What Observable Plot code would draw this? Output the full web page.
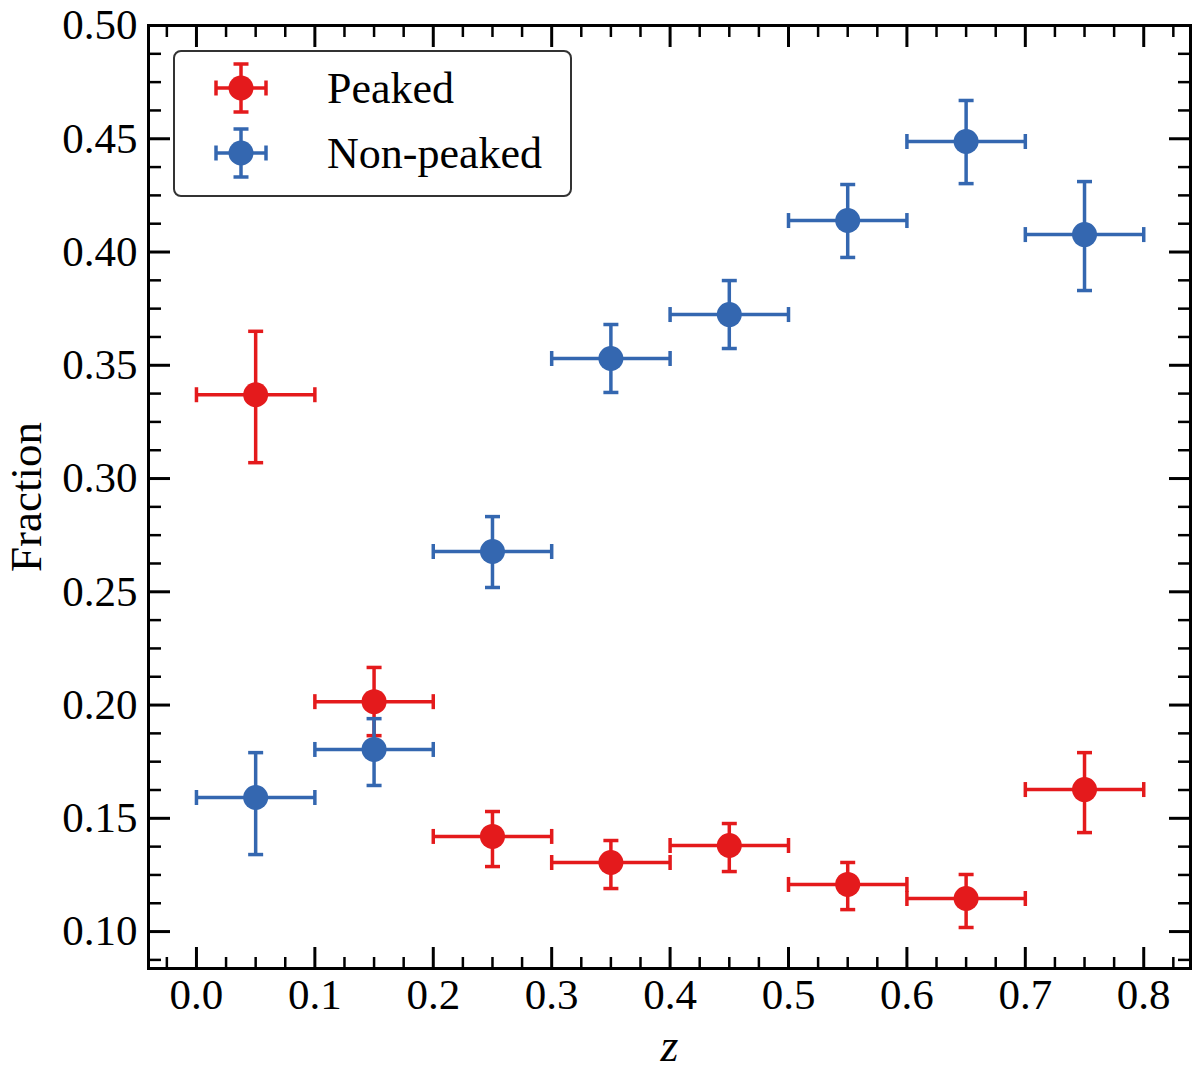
<!DOCTYPE html>
<html>
<head>
<meta charset="utf-8">
<script src="https://cdn.jsdelivr.net/npm/d3@7"></script>
<script src="https://cdn.jsdelivr.net/npm/@observablehq/plot@0.6"></script>
<style>
  body { margin: 0; background: #fff; }
  #wrap { position: relative; width: 1200px; height: 1082px; }
  #legend {
    position: absolute; left: 173px; top: 50px; width: 399px; height: 147px;
    box-sizing: border-box; border: 2px solid #333; border-radius: 8px; background: #fff;
    font-family: "Liberation Serif", serif; font-size: 44px; color: #000;
  }
  .item { position: absolute; left: 0; height: 60px; display: flex; align-items: center; }
  .item svg { margin-left: 38px; margin-right: 58px; }
</style>
</head>
<body>
<div id="wrap">
  <div id="vis"></div>
  <div id="legend"></div>
</div>
<script>
// redshift bins
const binLo = [0.0, 0.1, 0.2, 0.3, 0.4, 0.5, 0.6, 0.7]
const binHi = [0.1, 0.2, 0.3, 0.4, 0.5, 0.6, 0.7, 0.8]
const zMid = [0.05, 0.15, 0.25, 0.35, 0.45, 0.55, 0.65, 0.75]

const peaked = [0.337, 0.2015, 0.142, 0.1305, 0.138, 0.1208, 0.1146, 0.1627]
const peakedLo = [0.307, 0.1865, 0.1287, 0.119, 0.1265, 0.1097, 0.1018, 0.1437]
const peakedHi = [0.365, 0.2166, 0.153, 0.1402, 0.1477, 0.1305, 0.1252, 0.179]

const nonPeaked = [0.1592, 0.1804, 0.2678, 0.353, 0.3724, 0.4139, 0.4488, 0.4077]
const nonPeakedLo = [0.134, 0.1645, 0.2519, 0.338, 0.3574, 0.3976, 0.4302, 0.383]
const nonPeakedHi = [0.179, 0.194, 0.2832, 0.368, 0.3874, 0.4298, 0.4669, 0.4311]

const xMajor = [0.0, 0.1, 0.2, 0.3, 0.4, 0.5, 0.6, 0.7, 0.8]
const yMajor = [0.10, 0.15, 0.20, 0.25, 0.30, 0.35, 0.40, 0.45, 0.50]
const xMinor = d3.range(-0.025, 0.84, 0.025).filter(v => Math.abs(v * 10 - Math.round(v * 10)) > 1e-6)
const yMinor = d3.range(0.0875, 0.5, 0.0125).filter(v => Math.abs(v * 20 - Math.round(v * 20)) > 1e-6)

const colors = {Peaked: "#e41a1c", "Non-peaked": "#3467b0"}

const rows = (name, val, lo, hi) => zMid.map((z, i) => ({
  series: name, z, x1: binLo[i], x2: binHi[i], y: val[i], lo: lo[i], hi: hi[i]
}))
const data = [
  ...rows("Peaked", peaked, peakedLo, peakedHi),
  ...rows("Non-peaked", nonPeaked, nonPeakedLo, nonPeakedHi)
]

// short cap lines as dot symbols
const capH = {draw(c, s) { const r = Math.sqrt(s / Math.PI); c.moveTo(-r, 0); c.lineTo(r, 0) }}
const capV = {draw(c, s) { const r = Math.sqrt(s / Math.PI); c.moveTo(0, -r); c.lineTo(0, r) }}

const seriesMarks = name => {
  const d = data.filter(r => r.series === name)
  const col = colors[name]
  return [
    Plot.ruleY(d, {y: "y", x1: "x1", x2: "x2", stroke: col, strokeWidth: 3.5}),
    Plot.ruleX(d, {x: "z", y1: "lo", y2: "hi", stroke: col, strokeWidth: 3.5}),
    Plot.dot(d, {x: "z", y: "lo", symbol: capH, r: 7.5, fill: "none", stroke: col, strokeWidth: 3.5}),
    Plot.dot(d, {x: "z", y: "hi", symbol: capH, r: 7.5, fill: "none", stroke: col, strokeWidth: 3.5}),
    Plot.dot(d, {x: "x1", y: "y", symbol: capV, r: 7.5, fill: "none", stroke: col, strokeWidth: 3.5}),
    Plot.dot(d, {x: "x2", y: "y", symbol: capV, r: 7.5, fill: "none", stroke: col, strokeWidth: 3.5}),
    Plot.dot(d, {x: "z", y: "y", r: 12.5, fill: col, stroke: "none"})
  ]
}

const noText = () => ""

let chart = Plot.plot({
  width: 1200,
  height: 1082,
  marginLeft: 148,
  marginRight: 10,
  marginTop: 25,
  marginBottom: 114,
  x: {domain: [-0.0405, 0.8395]},
  y: {domain: [0.0837, 0.5]},
  marks: [
    // inward ticks on all four sides
    Plot.axisX(xMajor, {anchor: "bottom", tickSize: -21, strokeWidth: 3, tickFormat: noText, label: null}),
    Plot.axisX(xMinor, {anchor: "bottom", tickSize: -11, strokeWidth: 2.5, tickFormat: noText, label: null}),
    Plot.axisX(xMajor, {anchor: "top", tickSize: -21, strokeWidth: 3, tickFormat: noText, label: null}),
    Plot.axisX(xMinor, {anchor: "top", tickSize: -11, strokeWidth: 2.5, tickFormat: noText, label: null}),
    Plot.axisY(yMajor, {anchor: "left", tickSize: -22, strokeWidth: 3, tickFormat: noText, label: null}),
    Plot.axisY(yMinor, {anchor: "left", tickSize: -13, strokeWidth: 2.5, tickFormat: noText, label: null}),
    Plot.axisY(yMajor, {anchor: "right", tickSize: -22, strokeWidth: 3, tickFormat: noText, label: null}),
    Plot.axisY(yMinor, {anchor: "right", tickSize: -13, strokeWidth: 2.5, tickFormat: noText, label: null}),
    // tick labels
    Plot.axisX(xMajor, {anchor: "bottom", tickSize: 0, tickPadding: 10, tickFormat: d3.format(".1f"), fontSize: 43, label: null}),
    Plot.axisY(yMajor, {anchor: "left", tickSize: 0, tickPadding: 11, tickFormat: d3.format(".2f"), fontSize: 43, label: null}),
    Plot.frame({strokeWidth: 3}),
    ...seriesMarks("Peaked"),
    ...seriesMarks("Non-peaked"),
    Plot.text(["Fraction"], {frameAnchor: "left", rotate: -90, textAnchor: "middle", dx: -122, fontSize: 45}),
    Plot.text(["z"], {frameAnchor: "bottom", dy: 92, fontSize: 46, fontStyle: "italic"})
  ],
  style: {
    fontFamily: "Liberation Serif, serif",
    fontSize: 43,
    color: "#000",
    background: "#fff"
  }
})
d3.select('#vis').append(() => chart)

// legend
const markerSvg = col => `<svg width="56" height="54" viewBox="-28 -27 56 54">
  <g stroke="${col}" stroke-width="3.5" fill="none">
    <line x1="-25" y1="0" x2="25" y2="0"/><line x1="0" y1="-24" x2="0" y2="24"/>
    <line x1="-25" y1="-7.5" x2="-25" y2="7.5"/><line x1="25" y1="-7.5" x2="25" y2="7.5"/>
    <line x1="-7.5" y1="-24" x2="7.5" y2="-24"/><line x1="-7.5" y1="24" x2="7.5" y2="24"/>
  </g><circle r="12.5" fill="${col}"/></svg>`
const legend = d3.select('#legend')
Object.keys(colors).forEach((name, i) => {
  legend.append('div').attr('class', 'item')
    .style('top', (6 + i * 65) + 'px')
    .html(markerSvg(colors[name]) + `<span>${name}</span>`)
})
</script>
</body>
</html>
